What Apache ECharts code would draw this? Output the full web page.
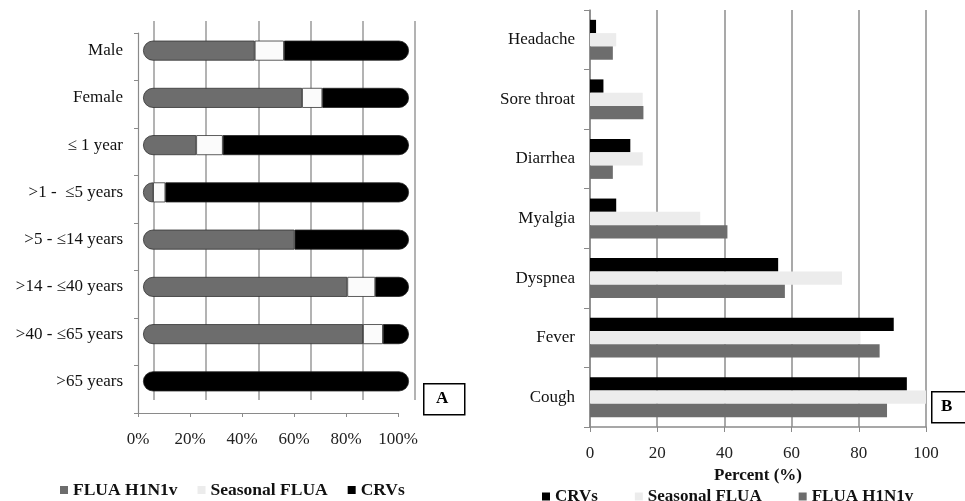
<!DOCTYPE html>
<html>
<head>
<meta charset="utf-8">
<script src="https://cdn.jsdelivr.net/npm/echarts@6/dist/echarts.min.js"></script>
<style>
html,body{margin:0;padding:0;background:#fff;}
#chart{width:965px;height:501px;}
</style>
</head>
<body>
<div id="chart"></div>
<script>
// ---- Panel A data (percent of cases, stacked to 100%) ----
const ageCategories = ['Male', 'Female', '\u2264 1 year', '>1 -  \u22645 years', '>5 - \u226414 years', '>14 - \u226440 years', '>40 - \u226465 years', '>65 years'];
const aH1N1v    = [42, 59.8, 20, 3.8, 57, 76.8, 82.7, 0];
const aSeasonal = [11, 7.6, 10, 4.6, 0, 10.5, 7.5, 0];
const aCRVs     = [47, 32.6, 70, 91.6, 43, 12.7, 9.8, 100];
const aTicks    = [0, 20, 40, 60, 80, 100];

// ---- Panel B data (percent with symptom) ----
const symptoms  = ['Headache', 'Sore throat', 'Diarrhea', 'Myalgia', 'Dyspnea', 'Fever', 'Cough'];
const bCRVs     = [1.8, 4, 12, 7.8, 56, 90.4, 94.3];
const bSeasonal = [7.8, 15.7, 15.7, 32.8, 75, 80.5, 100];
const bH1N1v    = [6.8, 15.9, 6.8, 40.9, 58, 86.2, 88.4];
const bTicks    = [0, 20, 40, 60, 80, 100];

const SERIF = 'Liberation Serif';
const C_GRAY = '#6d6d6d', C_LIGHT = '#ececec', C_BLACK = '#000000';

// build rounded-end stacked cylinder items
const aStacks = [aH1N1v, aSeasonal, aCRVs];
function stackItems(idx) {
  return aStacks[idx].map((v, i) => {
    const nz = aStacks.map((s, k) => s[i] > 0 ? k : -1).filter(k => k >= 0);
    const first = nz[0], last = nz[nz.length - 1];
    const r = [0, 0, 0, 0];
    if (idx === first) { r[0] = 10; r[3] = 10; }
    if (idx === last) { r[1] = 10; r[2] = 10; }
    const st = { borderRadius: r };
    if (v === 0) st.borderWidth = 0;
    return { value: v, itemStyle: st };
  });
}

const chart = echarts.init(document.getElementById('chart'), null, { renderer: 'canvas' });
const axisGray = '#8a8a8a';

const option = {
  backgroundColor: '#ffffff',
  animation: false,
  textStyle: { fontFamily: SERIF },
  grid: [
    { left: 154, right: 550, top: 21, bottom: 101 },   // A back plane grid lines
    { left: 143, right: 556, top: 27, bottom: 96 },    // A bars
    { left: 138, right: 567, top: 33, bottom: 88 },    // A front axes
    { left: 590, right: 39, top: 10, bottom: 74 }      // B
  ],
  xAxis: [
    { gridIndex: 0, type: 'value', min: 0, max: 100, interval: 20,
      axisLine: { show: false }, axisTick: { show: false }, axisLabel: { show: false },
      splitLine: { show: true, lineStyle: { color: '#9a9a9a', width: 1.5 } } },
    { gridIndex: 1, type: 'value', min: 0, max: 100, interval: 20, show: false },
    { gridIndex: 2, type: 'value', min: 0, max: 100, interval: 20,
      axisLine: { show: true, lineStyle: { color: axisGray, width: 1.2 } },
      axisTick: { show: true, length: 4, lineStyle: { color: axisGray } },
      axisLabel: { margin: 18, fontFamily: SERIF, fontSize: 17, color: '#222',
        formatter: v => aTicks.includes(v) ? v + '%' : '' },
      splitLine: { show: false } },
    { gridIndex: 3, type: 'value', min: 0, max: 100, interval: 20,
      name: 'Percent (%)', nameLocation: 'middle', nameGap: 31,
      nameTextStyle: { fontFamily: SERIF, fontSize: 17, fontWeight: 'bold', color: '#111' },
      axisLine: { show: true, lineStyle: { color: axisGray, width: 1.5 } },
      axisTick: { show: true, length: 5, lineStyle: { color: axisGray } },
      axisLabel: { margin: 18, fontFamily: SERIF, fontSize: 17, color: '#222',
        formatter: v => bTicks.includes(v) ? String(v) : '' },
      splitLine: { show: true, lineStyle: { color: '#8c8c8c', width: 1.5 } } }
  ],
  yAxis: [
    { gridIndex: 0, type: 'category', data: ageCategories, inverse: true, show: false },
    { gridIndex: 1, type: 'category', data: ageCategories, inverse: true,
      axisLine: { show: false }, axisTick: { show: false },
      axisLabel: { margin: 20, fontFamily: SERIF, fontSize: 17, color: '#111' } },
    { gridIndex: 2, type: 'category', data: ageCategories, inverse: true,
      axisLine: { show: true, lineStyle: { color: axisGray, width: 1.2 } },
      axisTick: { show: true, length: 4, lineStyle: { color: axisGray } },
      axisLabel: { show: false } },
    { gridIndex: 3, type: 'category', data: symptoms, inverse: true,
      axisLine: { show: true, lineStyle: { color: axisGray, width: 1.5 } },
      axisTick: { show: true, length: 6, lineStyle: { color: axisGray } },
      axisLabel: { margin: 15, fontFamily: SERIF, fontSize: 17, color: '#111' } }
  ],
  legend: [
    { left: 55, top: 476, itemWidth: 8, itemHeight: 8, itemGap: 20, icon: 'rect',
      textStyle: { fontFamily: SERIF, fontSize: 17.5, fontWeight: 'bold', color: '#111' },
      selectedMode: false,
      data: [
        { name: 'FLUA H1N1v', itemStyle: { color: C_GRAY, borderWidth: 0 } },
        { name: 'Seasonal FLUA', itemStyle: { color: C_LIGHT, borderWidth: 0 } },
        { name: 'CRVs', itemStyle: { color: C_BLACK, borderWidth: 0 } }
      ] },
    { left: 537, top: 483, itemWidth: 8, itemHeight: 8, itemGap: 37, icon: 'rect',
      textStyle: { fontFamily: SERIF, fontSize: 17, fontWeight: 'bold', color: '#111' },
      selectedMode: false,
      data: [
        { name: 'CRVs', itemStyle: { color: C_BLACK, borderWidth: 0 } },
        { name: 'Seasonal FLUA', itemStyle: { color: C_LIGHT, borderWidth: 0 } },
        { name: 'FLUA H1N1v', itemStyle: { color: C_GRAY, borderWidth: 0 } }
      ] }
  ],
  series: [
    { name: 'FLUA H1N1v', type: 'bar', stack: 'a', xAxisIndex: 1, yAxisIndex: 1, barWidth: 20,
      itemStyle: { color: C_GRAY, borderColor: '#333', borderWidth: 0.8 }, data: stackItems(0) },
    { name: 'Seasonal FLUA', type: 'bar', stack: 'a', xAxisIndex: 1, yAxisIndex: 1, barWidth: 20,
      itemStyle: { color: '#fbfbfb', borderColor: '#333', borderWidth: 0.8 }, data: stackItems(1) },
    { name: 'CRVs', type: 'bar', stack: 'a', xAxisIndex: 1, yAxisIndex: 1, barWidth: 20,
      itemStyle: { color: C_BLACK, borderColor: '#222', borderWidth: 0.8 }, data: stackItems(2) },

    { name: 'CRVs', type: 'bar', xAxisIndex: 3, yAxisIndex: 3, barWidth: 13.3, barGap: '0%',
      itemStyle: { color: C_BLACK }, data: bCRVs },
    { name: 'Seasonal FLUA', type: 'bar', xAxisIndex: 3, yAxisIndex: 3, barWidth: 13.3, barGap: '0%',
      itemStyle: { color: C_LIGHT }, data: bSeasonal },
    { name: 'FLUA H1N1v', type: 'bar', xAxisIndex: 3, yAxisIndex: 3, barWidth: 13.3, barGap: '0%',
      itemStyle: { color: C_GRAY }, data: bH1N1v }
  ],
  graphic: [
    { type: 'rect', left: 423, top: 383, shape: { width: 41, height: 31 },
      style: { fill: '#fff', stroke: '#000', lineWidth: 1.5 } },
    { type: 'text', left: 436, top: 390,
      style: { text: 'A', font: 'bold 17px "Liberation Serif"', fill: '#000' } },
    { type: 'rect', left: 931, top: 391, shape: { width: 45, height: 31 },
      style: { fill: '#fff', stroke: '#000', lineWidth: 1.5 } },
    { type: 'text', left: 941, top: 398,
      style: { text: 'B', font: 'bold 17px "Liberation Serif"', fill: '#000' } }
  ]
};
chart.setOption(option);
</script>
</body>
</html>
